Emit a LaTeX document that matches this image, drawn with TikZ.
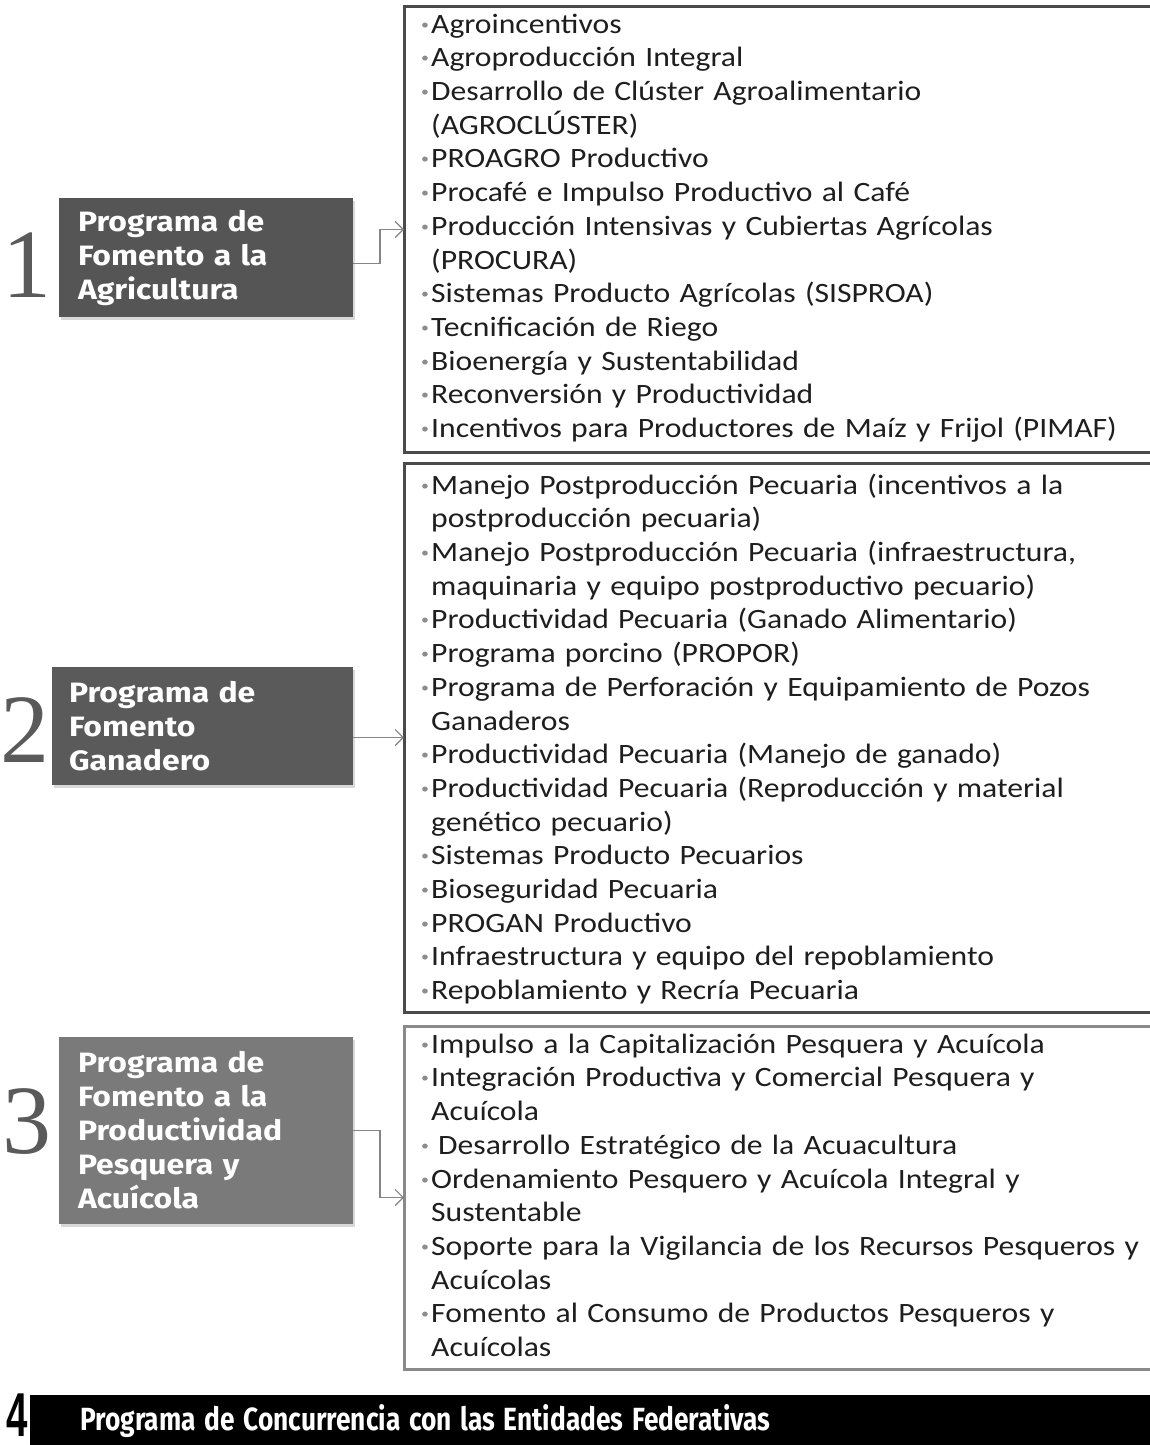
\documentclass[tikz,border=0pt]{standalone}
\usepackage{fontspec}
\usepackage{graphicx}
\setmainfont{Carlito}[FakeStretch=1.13, WordSpace=0.6]
\newfontfamily\firafont{Fira Sans}[FakeStretch=1.14]
\newfontfamily\barfont{Fira Sans}
\newfontfamily\numfont{Liberation Serif}
\newfontfamily\fourfont{Liberation Sans}[FakeStretch=0.62]
\usetikzlibrary{arrows.meta,shadows,calc}
\definecolor{txt}{HTML}{1E1E1E}
\definecolor{bul}{HTML}{8C8C8C}
\definecolor{dkA}{HTML}{555555}
\definecolor{dkB}{HTML}{5A5A5A}
\definecolor{dkC}{HTML}{7A7A7A}
\definecolor{bdA}{HTML}{4A4A4A}
\definecolor{bdC}{HTML}{8A8A8A}
\definecolor{conncol}{HTML}{858585}
\definecolor{numcol}{HTML}{5A5A5A}
\newcommand{\bulw}{10pt}
\newcommand{\itm}[1]{\makebox[\bulw][l]{\raisebox{4pt}{\scalebox{0.5}{\color{bul}\textbullet}}}#1}
\newcommand{\cnt}[1]{\hspace*{\bulw}#1}
\begin{document}
\begin{tikzpicture}[x=1pt,y=-1pt,
  listbox/.style={draw=#1, line width=3pt, rectangle, inner sep=0pt, outer sep=0pt, anchor=north west,
    drop shadow={shadow xshift=2pt, shadow yshift=-2pt, opacity=0.25}, fill=white},
  listtext/.style={anchor=north west, inner sep=0pt, text width=800pt, align=left, text=txt,
    font=\fontsize{28}{33.7}\selectfont},
  darkbox/.style={anchor=north west, inner ysep=0pt, outer sep=0pt, align=left, text=white,
    font=\firafont\bfseries\fontsize{28}{34}\selectfont,
    drop shadow={shadow xshift=2pt, shadow yshift=-3pt, opacity=0.3}},
  numeral/.style={inner sep=0pt, text=numcol, font=\numfont\fontsize{98}{98}\selectfont},
  conn/.style={draw=conncol, line width=1.3pt, -{Straight Barb[length=8pt,width=16pt,line width=1.1pt]}},
  barbox/.style={anchor=north west, fill=black, inner xsep=50pt, inner ysep=0pt, minimum height=52pt,
    text width=1080pt, align=left, text=white}
]
\useasboundingbox (0,0) rectangle (1149,1445);
\fill[white] (0,0) rectangle (1149,1445);

% list boxes
\node[listbox=bdA, minimum width=800pt, minimum height=445pt] (B1) at (404,7) {};
\node[listbox=bdA, minimum width=800pt, minimum height=549pt] (B2) at (404,463) {};
\node[listbox=bdC, minimum width=800pt, minimum height=343pt] (B3) at (404,1026) {};

\node[listtext] (T1) at (421,9.4) {\strut\itm{Agroincentivos}\\
\itm{Agroproducción Integral}\\
\itm{Desarrollo de Clúster Agroalimentario}\\
\cnt{(AGROCLÚSTER)}\\
\itm{PROAGRO Productivo}\\
\itm{Procafé e Impulso Productivo al Café}\\
\itm{Producción Intensivas y Cubiertas Agrícolas}\\
\cnt{(PROCURA)}\\
\itm{Sistemas Producto Agrícolas (SISPROA)}\\
\itm{Tecnificación de Riego}\\
\itm{Bioenergía y Sustentabilidad}\\
\itm{Reconversión y Productividad}\\
\itm{Incentivos para Productores de Maíz y Frijol (PIMAF)}};

\node[listtext] (T2) at (421,470.4) {\strut\itm{Manejo Postproducción Pecuaria (incentivos a la}\\
\cnt{postproducción pecuaria)}\\
\itm{Manejo Postproducción Pecuaria (infraestructura,}\\
\cnt{maquinaria y equipo postproductivo pecuario)}\\
\itm{Productividad Pecuaria (Ganado Alimentario)}\\
\itm{Programa porcino (PROPOR)}\\
\itm{Programa de Perforación y Equipamiento de Pozos}\\
\cnt{Ganaderos}\\
\itm{Productividad Pecuaria (Manejo de ganado)}\\
\itm{Productividad Pecuaria (Reproducción y material}\\
\cnt{genético pecuario)}\\
\itm{Sistemas Producto Pecuarios}\\
\itm{Bioseguridad Pecuaria}\\
\itm{PROGAN Productivo}\\
\itm{Infraestructura y equipo del repoblamiento}\\
\itm{Repoblamiento y Recría Pecuaria}};

\node[listtext] (T3) at (421,1029.4) {\strut\itm{Impulso a la Capitalización Pesquera y Acuícola}\\
\itm{Integración Productiva y Comercial Pesquera y}\\
\cnt{Acuícola}\\
\itm{\hspace*{7pt}Desarrollo Estratégico de la Acuacultura}\\
\itm{Ordenamiento Pesquero y Acuícola Integral y}\\
\cnt{Sustentable}\\
\itm{Soporte para la Vigilancia de los Recursos Pesqueros y}\\
\cnt{Acuícolas}\\
\itm{Fomento al Consumo de Productos Pesqueros y}\\
\cnt{Acuícolas}};

% dark program boxes
\node[darkbox, fill=dkA, inner xsep=19pt, text width=256pt, minimum height=119pt] (D1) at (59,198)
  {Programa de\\Fomento a la\\Agricultura};
\node[darkbox, fill=dkB, inner xsep=17pt, text width=267pt, minimum height=118pt] (D2) at (52,667)
  {Programa de\\Fomento\\Ganadero};
\node[darkbox, fill=dkC, inner xsep=19pt, text width=256pt, minimum height=187pt] (D3) at (59,1037)
  {Programa de\\Fomento a la\\Productividad\\Pesquera y\\Acuícola};

% numerals
\node[numeral] (N1) at (27,265) {1};
\node[numeral] (N2) at (25,730) {2};
\node[numeral] (N3) at (27,1122) {3};

% connectors
\draw[conn] ([yshift=-6pt]D1.east) -- ++(27,0) |- (B1.west);
\draw[conn] (D2.east |- B2.west) -- (B2.west);
\draw[conn] (D3.east) -- ++(27,0) |- (B3.west);

% bottom bar
\node[inner sep=0pt, font=\fourfont\bfseries\fontsize{62}{62}\selectfont] (F4) at (17,1415) {4};
\node[barbox] (Bar) at (30,1395) {\resizebox{690pt}{26pt}{\barfont\bfseries Programa de Concurrencia con las Entidades Federativas}};
\end{tikzpicture}
\end{document}
